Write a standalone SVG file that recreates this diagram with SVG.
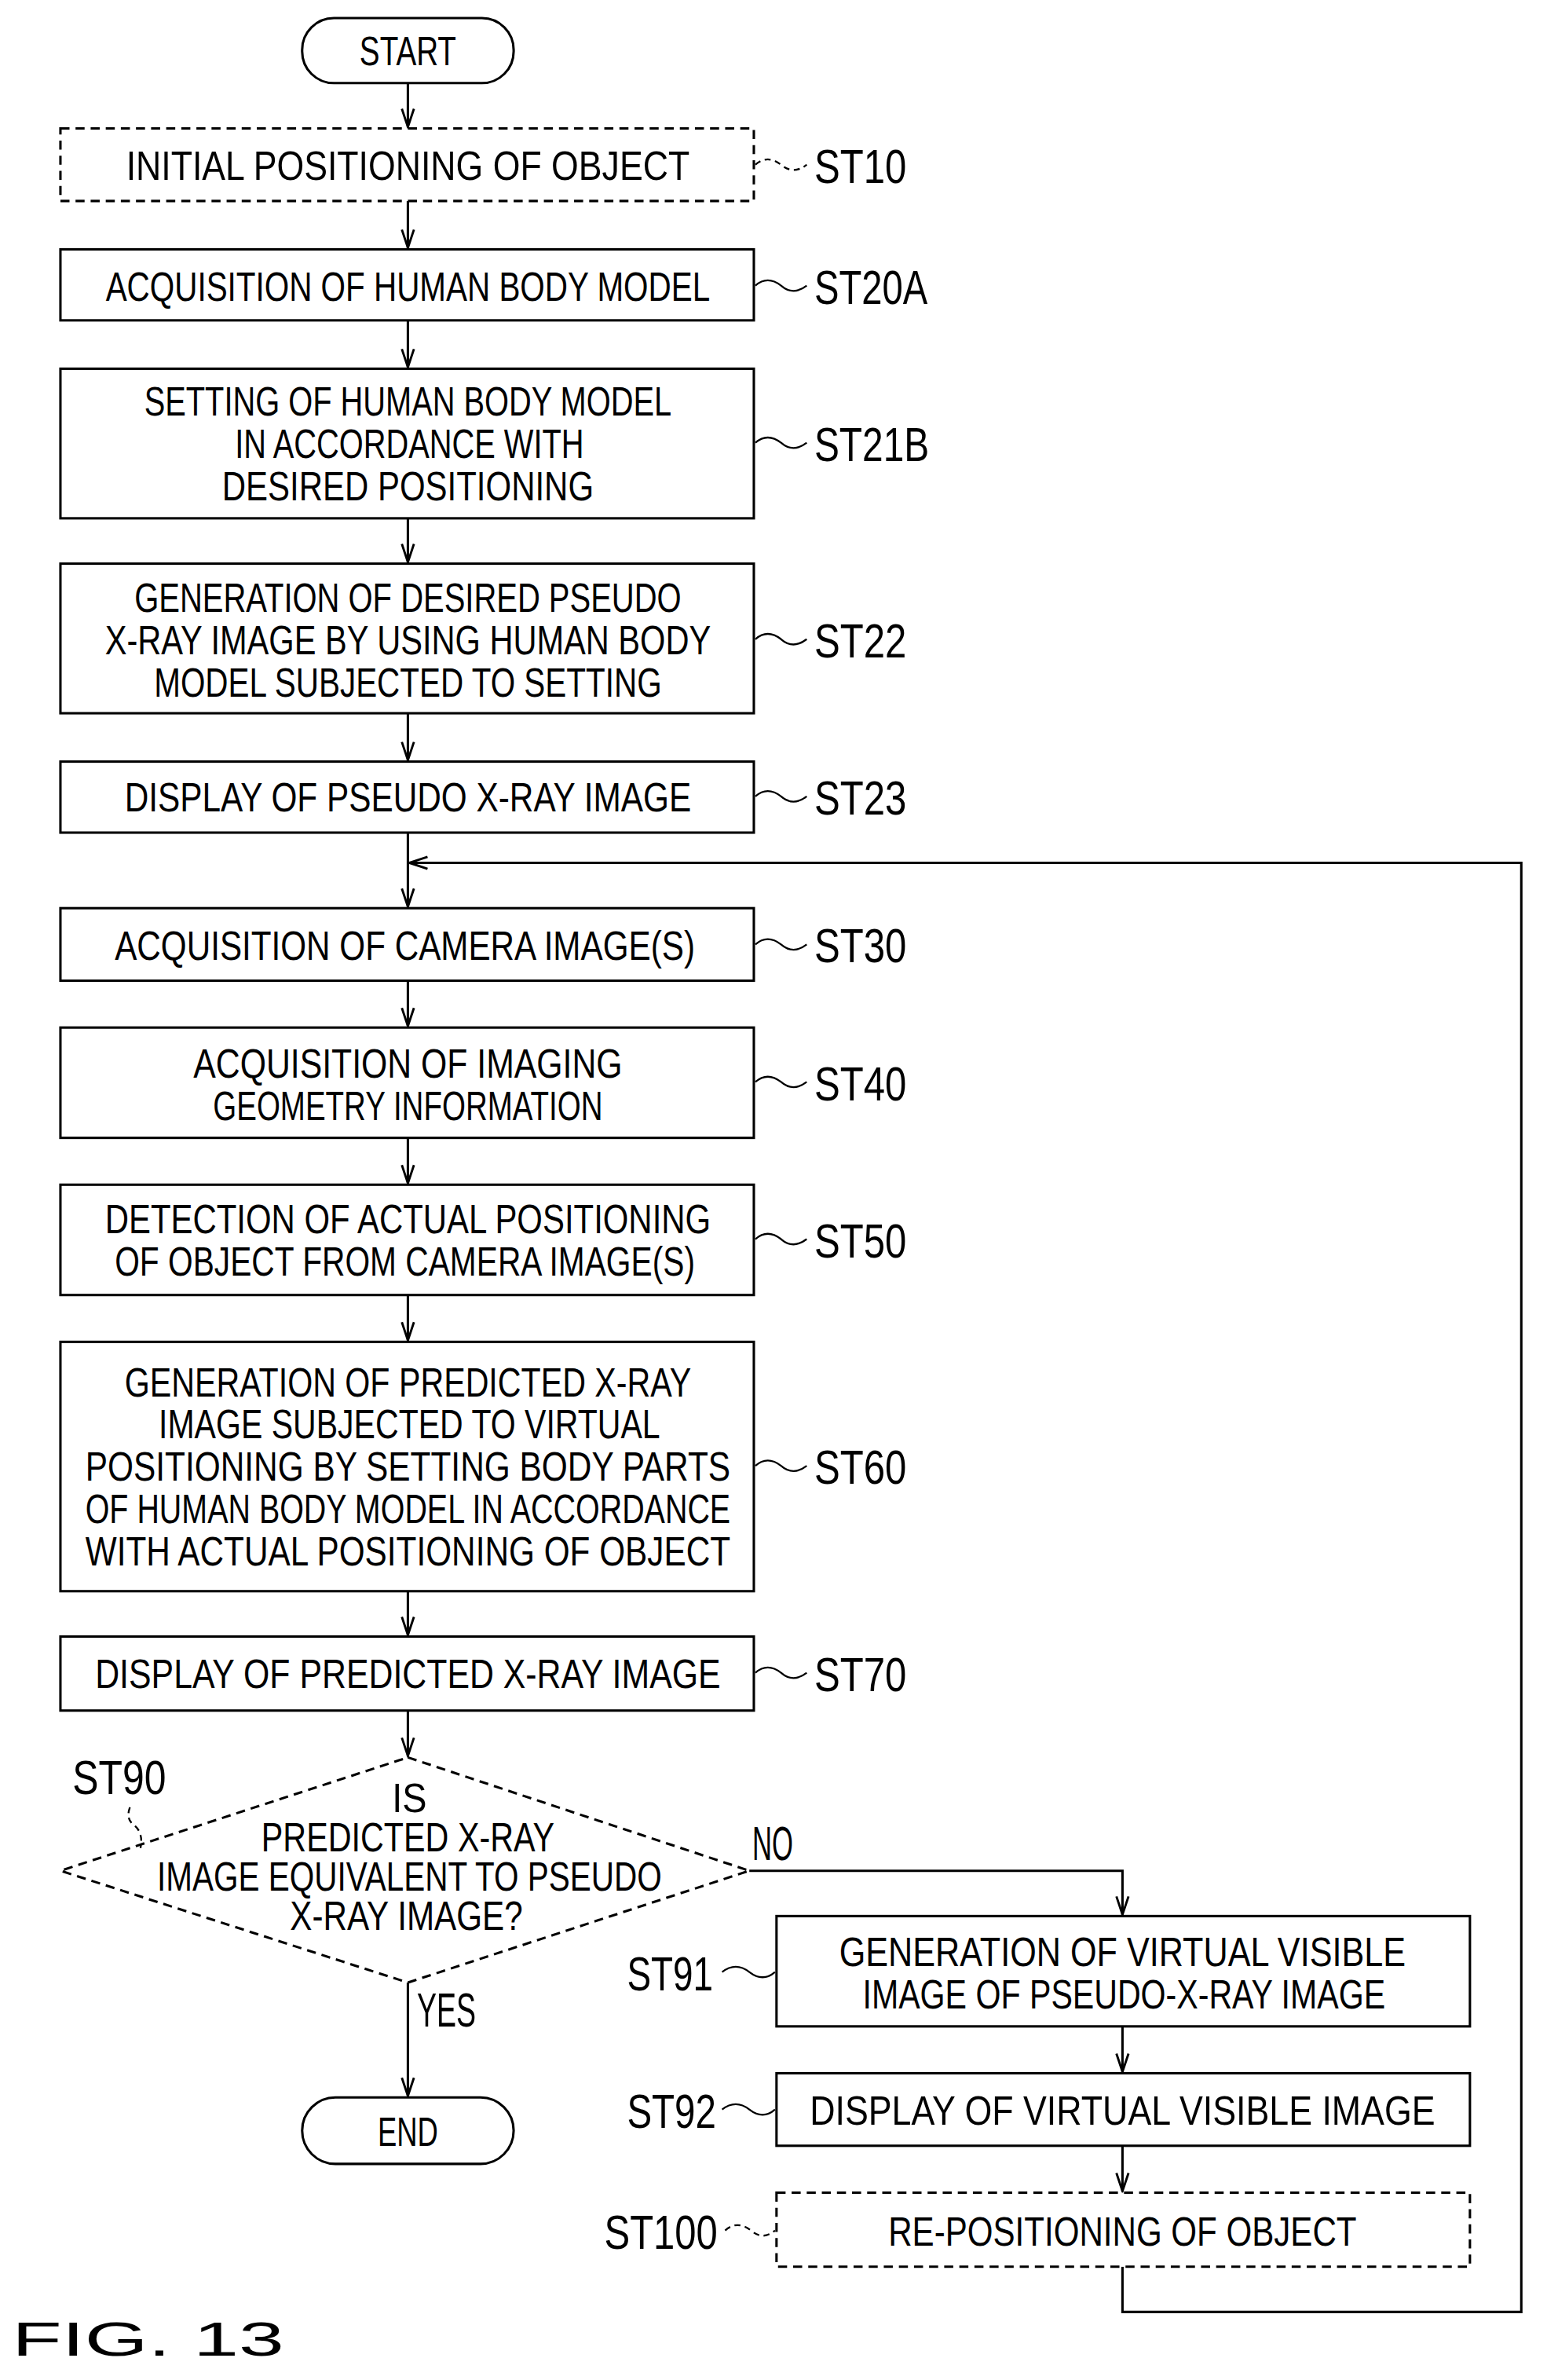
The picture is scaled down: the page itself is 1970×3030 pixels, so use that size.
<svg xmlns="http://www.w3.org/2000/svg" width="1970" height="3030" viewBox="0 0 1970 3030">
<defs>
<style>
.b{fill:#fff;stroke:#000;stroke-width:1.6}
.d{fill:#fff;stroke:#000;stroke-width:1.6;stroke-dasharray:6 4}
.t{font-family:"Liberation Sans",Arial,sans-serif;font-size:27px;text-anchor:middle;fill:#000}
.l{font-family:"Liberation Sans",Arial,sans-serif;font-size:32px;fill:#000}
.c{fill:none;stroke:#000;stroke-width:1.6}
.ld{fill:none;stroke:#000;stroke-width:1.2}
.ldd{fill:none;stroke:#000;stroke-width:1.2;stroke-dasharray:4 3}
</style>
<marker id="a" viewBox="-14 -6 16 12" markerWidth="16" markerHeight="12" refX="0" refY="0" orient="auto" markerUnits="userSpaceOnUse">
<path d="M-12,-4 L0,0 L-12,4" fill="none" stroke="#000" stroke-width="1.5"/>
</marker>
</defs>
<rect width="1970" height="3030" fill="#fff"/>
<g transform="scale(1.9238)">
<g id="connectors">
<path class="c" d="M270,55V84" marker-end="url(#a)"/>
<path class="c" d="M270,133V164" marker-end="url(#a)"/>
<path class="c" d="M270,212V243" marker-end="url(#a)"/>
<path class="c" d="M270,343V372" marker-end="url(#a)"/>
<path class="c" d="M270,472V503" marker-end="url(#a)"/>
<path class="c" d="M270,551V600" marker-end="url(#a)"/>
<path class="c" d="M270,649V679" marker-end="url(#a)"/>
<path class="c" d="M270,753V783" marker-end="url(#a)"/>
<path class="c" d="M270,857V887" marker-end="url(#a)"/>
<path class="c" d="M270,1053V1082" marker-end="url(#a)"/>
<path class="c" d="M270,1132V1162" marker-end="url(#a)"/>
<path class="c" d="M270,1312V1387" marker-end="url(#a)"/>
<path class="c" d="M496,1238H743V1267" marker-end="url(#a)"/>
<path class="c" d="M743,1341V1371" marker-end="url(#a)"/>
<path class="c" d="M743,1420V1450" marker-end="url(#a)"/>
<path class="c" d="M743,1500V1530H1007V571H271" marker-end="url(#a)"/>
<text class="l" x="498" y="1231" font-size="24" textLength="27" lengthAdjust="spacingAndGlyphs">NO</text>
<text class="l" x="276" y="1341" font-size="24" textLength="39" lengthAdjust="spacingAndGlyphs">YES</text>
</g>
<g id="start"><rect class="b" x="200" y="12" width="140" height="43" rx="21"/><text class="t" x="270" y="43" textLength="64" lengthAdjust="spacingAndGlyphs">START</text></g>
<g id="st10"><rect class="d" x="40" y="85" width="459" height="48"/><text class="t" x="270" y="119" textLength="373" lengthAdjust="spacingAndGlyphs">INITIAL POSITIONING OF OBJECT</text>
<path class="ldd" d="M500,109 q8,-7 17,0 q8,7 17,0"/><text class="l" x="539" y="121" textLength="61" lengthAdjust="spacingAndGlyphs">ST10</text></g>
<g id="st20a"><rect class="b" x="40" y="165" width="459" height="47"/><text class="t" x="270" y="199" textLength="400" lengthAdjust="spacingAndGlyphs">ACQUISITION OF HUMAN BODY MODEL</text>
<path class="ld" d="M500,189 q8,-7 17,0 q8,7 17,0"/><text class="l" x="539" y="201" textLength="75" lengthAdjust="spacingAndGlyphs">ST20A</text></g>
<g id="st21b"><rect class="b" x="40" y="244" width="459" height="99"/>
<text class="t" x="270" y="275" textLength="349" lengthAdjust="spacingAndGlyphs">SETTING OF HUMAN BODY MODEL</text>
<text class="t" x="271" y="303" textLength="231" lengthAdjust="spacingAndGlyphs">IN ACCORDANCE WITH</text>
<text class="t" x="270" y="331" textLength="246" lengthAdjust="spacingAndGlyphs">DESIRED POSITIONING</text>
<path class="ld" d="M500,293 q8,-7 17,0 q8,7 17,0"/><text class="l" x="539" y="305" textLength="76" lengthAdjust="spacingAndGlyphs">ST21B</text></g>
<g id="st22"><rect class="b" x="40" y="373" width="459" height="99"/>
<text class="t" x="270" y="405" textLength="362" lengthAdjust="spacingAndGlyphs">GENERATION OF DESIRED PSEUDO</text>
<text class="t" x="270" y="433" textLength="401" lengthAdjust="spacingAndGlyphs">X-RAY IMAGE BY USING HUMAN BODY</text>
<text class="t" x="270" y="461" textLength="336" lengthAdjust="spacingAndGlyphs">MODEL SUBJECTED TO SETTING</text>
<path class="ld" d="M500,423 q8,-7 17,0 q8,7 17,0"/><text class="l" x="539" y="435" textLength="61" lengthAdjust="spacingAndGlyphs">ST22</text></g>
<g id="st23"><rect class="b" x="40" y="504" width="459" height="47"/><text class="t" x="270" y="537" textLength="375" lengthAdjust="spacingAndGlyphs">DISPLAY OF PSEUDO X-RAY IMAGE</text>
<path class="ld" d="M500,527 q8,-7 17,0 q8,7 17,0"/><text class="l" x="539" y="539" textLength="61" lengthAdjust="spacingAndGlyphs">ST23</text></g>
<g id="st30"><rect class="b" x="40" y="601" width="459" height="48"/><text class="t" x="268" y="635" textLength="384" lengthAdjust="spacingAndGlyphs">ACQUISITION OF CAMERA IMAGE(S)</text>
<path class="ld" d="M500,625 q8,-7 17,0 q8,7 17,0"/><text class="l" x="539" y="637" textLength="61" lengthAdjust="spacingAndGlyphs">ST30</text></g>
<g id="st40"><rect class="b" x="40" y="680" width="459" height="73"/>
<text class="t" x="270" y="713" textLength="284" lengthAdjust="spacingAndGlyphs">ACQUISITION OF IMAGING</text>
<text class="t" x="270" y="741" textLength="258" lengthAdjust="spacingAndGlyphs">GEOMETRY INFORMATION</text>
<path class="ld" d="M500,716 q8,-7 17,0 q8,7 17,0"/><text class="l" x="539" y="728" textLength="61" lengthAdjust="spacingAndGlyphs">ST40</text></g>
<g id="st50"><rect class="b" x="40" y="784" width="459" height="73"/>
<text class="t" x="270" y="816" textLength="401" lengthAdjust="spacingAndGlyphs">DETECTION OF ACTUAL POSITIONING</text>
<text class="t" x="268" y="844" textLength="384" lengthAdjust="spacingAndGlyphs">OF OBJECT FROM CAMERA IMAGE(S)</text>
<path class="ld" d="M500,820 q8,-7 17,0 q8,7 17,0"/><text class="l" x="539" y="832" textLength="61" lengthAdjust="spacingAndGlyphs">ST50</text></g>
<g id="st60"><rect class="b" x="40" y="888" width="459" height="165"/>
<text class="t" x="270" y="924" textLength="375" lengthAdjust="spacingAndGlyphs">GENERATION OF PREDICTED X-RAY</text>
<text class="t" x="271" y="952" textLength="332" lengthAdjust="spacingAndGlyphs">IMAGE SUBJECTED TO VIRTUAL</text>
<text class="t" x="270" y="980" textLength="427" lengthAdjust="spacingAndGlyphs">POSITIONING BY SETTING BODY PARTS</text>
<text class="t" x="270" y="1008" textLength="427" lengthAdjust="spacingAndGlyphs">OF HUMAN BODY MODEL IN ACCORDANCE</text>
<text class="t" x="270" y="1036" textLength="427" lengthAdjust="spacingAndGlyphs">WITH ACTUAL POSITIONING OF OBJECT</text>
<path class="ld" d="M500,970 q8,-7 17,0 q8,7 17,0"/><text class="l" x="539" y="982" textLength="61" lengthAdjust="spacingAndGlyphs">ST60</text></g>
<g id="st70"><rect class="b" x="40" y="1083" width="459" height="49"/><text class="t" x="270" y="1117" textLength="414" lengthAdjust="spacingAndGlyphs">DISPLAY OF PREDICTED X-RAY IMAGE</text>
<path class="ld" d="M500,1107 q8,-7 17,0 q8,7 17,0"/><text class="l" x="539" y="1119" textLength="61" lengthAdjust="spacingAndGlyphs">ST70</text></g>
<g id="st90"><path class="d" d="M270,1163 L496,1238 L270,1312 L40,1238 Z"/>
<text class="t" x="271" y="1199" textLength="23" lengthAdjust="spacingAndGlyphs">IS</text>
<text class="t" x="270" y="1225" textLength="194" lengthAdjust="spacingAndGlyphs">PREDICTED X-RAY</text>
<text class="t" x="271" y="1251" textLength="334" lengthAdjust="spacingAndGlyphs">IMAGE EQUIVALENT TO PSEUDO</text>
<text class="t" x="269" y="1277" textLength="154" lengthAdjust="spacingAndGlyphs">X-RAY IMAGE?</text>
<path class="ldd" d="M86,1196 q-3,8 3,12 q6,5 4,15"/>
<text class="l" x="48" y="1187" textLength="62" lengthAdjust="spacingAndGlyphs">ST90</text></g>
<g id="st91"><rect class="b" x="514" y="1268" width="459" height="73"/>
<text class="t" x="743" y="1301" textLength="375" lengthAdjust="spacingAndGlyphs">GENERATION OF VIRTUAL VISIBLE</text>
<text class="t" x="744" y="1329" textLength="346" lengthAdjust="spacingAndGlyphs">IMAGE OF PSEUDO-X-RAY IMAGE</text>
<path class="ld" d="M478,1305 q9,-7 18,0 q9,7 17,0"/><text class="l" x="415" y="1317" textLength="57" lengthAdjust="spacingAndGlyphs">ST91</text></g>
<g id="st92"><rect class="b" x="514" y="1372" width="459" height="48"/><text class="t" x="743" y="1406" textLength="414" lengthAdjust="spacingAndGlyphs">DISPLAY OF VIRTUAL VISIBLE IMAGE</text>
<path class="ld" d="M478,1396 q9,-7 18,0 q9,7 17,0"/><text class="l" x="415" y="1408" textLength="59" lengthAdjust="spacingAndGlyphs">ST92</text></g>
<g id="st100"><rect class="d" x="514" y="1451" width="459" height="49"/><text class="t" x="743" y="1486" textLength="310" lengthAdjust="spacingAndGlyphs">RE-POSITIONING OF OBJECT</text>
<path class="ldd" d="M480,1476 q8,-7 17,0 q8,7 16,0"/><text class="l" x="400" y="1488" textLength="75" lengthAdjust="spacingAndGlyphs">ST100</text></g>
<g id="end"><rect class="b" x="200" y="1388" width="140" height="44" rx="22"/><text class="t" x="270" y="1420" textLength="40" lengthAdjust="spacingAndGlyphs">END</text></g>
<text class="l" x="8" y="1559" font-size="68" textLength="180" lengthAdjust="spacingAndGlyphs">FIG. 13</text>
</g>
</svg>
